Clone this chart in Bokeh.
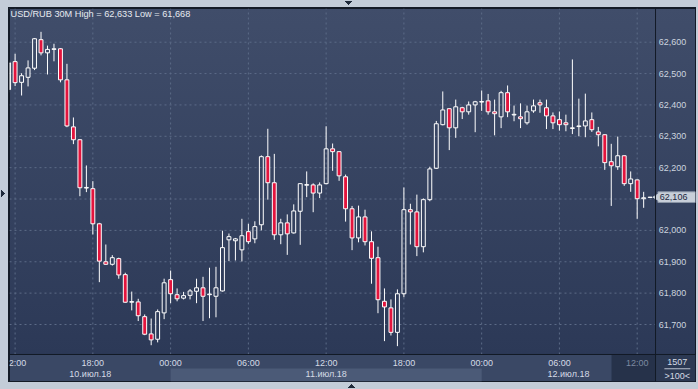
import numpy as np
from bokeh.plotting import figure
from bokeh.models import Label, BoxAnnotation, Range1d, ColumnDataSource, Span
from bokeh.core.properties import value
from bokeh.embed import file_html
from bokeh.resources import INLINE

# ---- data: USD/RUB 30-minute bars, index 0 = 10 Jul 2018 12:00 ----
bar_index = list(range(-1, 99))
open_ = [62449, 62538, 62472, 62488, 62517, 62608, 62566, 62577, 62579, 62480,
         62330, 62289, 62135, 62133, 62021, 61900, 61892, 61910, 61859, 61771,
         61772, 61725, 61670, 61653, 61737, 61843, 61795, 61784, 61793, 61806,
         61817, 61795, 61790, 61807, 61970, 61967, 61938, 61996, 61973, 62018,
         62235, 62152, 61986, 62024, 61992, 62061, 62144, 62145, 62119, 62149,
         62260, 62251, 62171, 62069, 61976, 62043, 61964, 61913, 61774, 61753,
         61675, 61798, 62066, 62059, 61948, 62098, 62198, 62337, 62388, 62327,
         62391, 62378, 62400, 62409, 62413, 62378, 62362, 62439, 62368, 62362,
         62343, 62381, 62407, 62391, 62365, 62353, 62343, 62325, 62331, 62333,
         62353, 62314, 62305, 62219, 62203, 62238, 62149, 62161, 62101, 62105]
high_ = [62542, 62563, 62501, 62542, 62613, 62633, 62589, 62595, 62581, 62531,
         62360, 62291, 62207, 62157, 62024, 61955, 61921, 61913, 61865, 61805,
         61782, 61732, 61719, 61748, 61846, 61872, 61815, 61804, 61813, 61846,
         61852, 61881, 61884, 61999, 61990, 61976, 62037, 62021, 62029, 62239,
         62324, 62244, 62037, 62051, 62083, 62150, 62188, 62150, 62153, 62332,
         62277, 62252, 62178, 62078, 62079, 62066, 61997, 61948, 61815, 61780,
         61812, 62137, 62085, 62114, 62102, 62203, 62349, 62443, 62389, 62417,
         62394, 62411, 62413, 62446, 62435, 62417, 62445, 62462, 62398, 62405,
         62398, 62417, 62417, 62417, 62376, 62379, 62369, 62545, 62420, 62436,
         62376, 62330, 62306, 62276, 62299, 62239, 62188, 62162, 62123, 62106]
low_ = [62440, 62460, 62430, 62459, 62511, 62558, 62497, 62539, 62472, 62329,
        62275, 62109, 62122, 61987, 61835, 61890, 61888, 61846, 61769, 61745,
        61711, 61666, 61634, 61643, 61717, 61768, 61774, 61780, 61780, 61768,
        61711, 61720, 61723, 61805, 61902, 61904, 61901, 61957, 61959, 62000,
        62098, 61970, 61956, 61922, 61990, 61954, 62106, 62058, 62103, 62147,
        62190, 62158, 62028, 61937, 61962, 61952, 61830, 61736, 61647, 61665,
        61631, 61787, 61955, 61918, 61930, 62093, 62196, 62335, 62256, 62295,
        62355, 62369, 62313, 62381, 62369, 62303, 62326, 62361, 62348, 62326,
        62337, 62375, 62375, 62323, 62323, 62318, 62316, 62307, 62300, 62297,
        62314, 62268, 62193, 62078, 62193, 62142, 62123, 62037, 62072, 62105]
close_ = [62534, 62471, 62493, 62518, 62611, 62566, 62577, 62579, 62480, 62333,
          62289, 62136, 62137, 62021, 61902, 61892, 61913, 61858, 61771, 61773,
          61728, 61669, 61651, 61741, 61833, 61798, 61782, 61792, 61807, 61817,
          61790, 61797, 61817, 61945, 61980, 61973, 61983, 61964, 62012, 62235,
          62152, 61986, 62024, 61989, 62062, 62149, 62146, 62119, 62145, 62260,
          62251, 62174, 62069, 61976, 62043, 61964, 61911, 61779, 61756, 61675,
          61798, 62066, 62059, 61948, 62098, 62196, 62340, 62384, 62327, 62394,
          62378, 62400, 62410, 62411, 62378, 62372, 62439, 62378, 62370, 62356,
          62378, 62397, 62400, 62365, 62343, 62337, 62337, 62327, 62333, 62349,
          62321, 62305, 62216, 62206, 62238, 62149, 62164, 62101, 62104, 62106]

price_ticks = [61700, 61800, 61900, 62000, 62100, 62200, 62300, 62400, 62500, 62600]
time_tick_pos = [0, 12, 24, 36, 48, 60, 72, 84]
time_tick_labels = ["12:00", "18:00", "00:00", "06:00", "12:00", "18:00", "00:00", "06:00"]
current_tick_pos = 96
current_tick_label = "12:00"
date_tick_pos = [11.6, 48, 85.4]
date_tick_labels = ["10.июл.18", "11.июл.18", "12.июл.18"]
day_band = (24, 72)          # 11 Jul 00:00 .. 12 Jul 00:00
last_price = 62106
bar_count_text = "1507"
zoom_text = ">100<"
title_text = "USD/RUB 30M  High = 62,633 Low = 61,668"

RED = "#e3143d"
FONT = "Liberation Sans"
GRID = "#5c6b87"
LABEL = "#ccd4df"
ARROW = "#1f2a3b"

o = np.array(open_, float); c = np.array(close_, float)
h = np.array(high_, float); l = np.array(low_, float)
x = np.array(bar_index, float)
bt = np.maximum(o, c); bb = np.minimum(o, c)
up = c >= o

# candle area limits, and whole frame incl. price scale and time strip
cx0, cx1 = -0.864, 98.83
cy0, cy1 = 61604.4, 62707.4
fx1, fy0 = 105.0, 61518.3
strip_time_y = 61576.6
strip_date_y = 61541.6

p = figure(width=698, height=389, x_range=Range1d(cx0, fx1), y_range=Range1d(fy0, cy1),
           output_backend="svg", toolbar_location=None, tools="",
           x_axis_location=None, y_axis_location=None,
           min_border_left=9, min_border_top=8, min_border_right=3, min_border_bottom=8)
p.xgrid.visible = False
p.ygrid.visible = False
p.background_fill_alpha = 0
p.border_fill_alpha = 0
p.outline_line_color = "#131a26"


def tri(direction, left, top, size=4):
    return (f"linear-gradient(to {direction}, transparent 50%, {ARROW} 50%) "
            f"{left}px {top}px / {size}px {size}px no-repeat, ")


p.styles = {"background": (
    tri("top right", 345, 1) + tri("top left", 349, 1) +
    tri("bottom right", 348, 384) + tri("bottom left", 352, 384) +
    tri("bottom left", 1, 190) + tri("top left", 1, 194) +
    "linear-gradient(#404d6a, #2c3957) 9px 8px / 686px 346px no-repeat, "
    "linear-gradient(#3a4865, #3a4865) 9px 354px / 686px 27px no-repeat, "
    "linear-gradient(#141b27, #141b27) 8px 7px / 688px 375px no-repeat, "
    "#c3ccd8")}

# strip decorations
p.add_layout(BoxAnnotation(left=day_band[0], right=day_band[1], top=61559.7, bottom=fy0,
                           fill_color="#4b5a77", fill_alpha=1, line_alpha=0, level="underlay"))
p.add_layout(BoxAnnotation(left=92.04, right=cx1, top=cy0, bottom=fy0,
                           fill_color="#26324a", fill_alpha=1, line_alpha=0, level="underlay"))
p.add_layout(BoxAnnotation(left=cx1, right=fx1, top=cy0, bottom=fy0,
                           fill_color="#2c3953", fill_alpha=1, line_alpha=0, level="underlay"))

# dashed grid limited to the candle area
vx = time_tick_pos + [current_tick_pos]
p.segment(x0=vx, y0=[cy0] * len(vx), x1=vx, y1=[cy1] * len(vx),
          line_color=GRID, line_dash="2 3", line_width=1)
p.segment(x0=[cx0] * len(price_ticks), y0=price_ticks, x1=[cx1] * len(price_ticks),
          y1=price_ticks, line_color=GRID, line_dash="2 3", line_width=1)

# separators between candle area and scales
p.add_layout(Span(location=cy0, dimension="width", line_color="#131a26", line_width=1))
p.add_layout(Span(location=cx1, dimension="height", line_color="#131a26", line_width=1))

# candles
up_src = ColumnDataSource(dict(x=x[up], t=bt[up], b=bb[up]))
dn_src = ColumnDataSource(dict(x=x[~up], t=bt[~up], b=bb[~up]))
p.segment(x0=x, y0=bt, x1=x, y1=h, line_color="white", line_width=1)
p.segment(x0=x, y0=bb, x1=x, y1=l, line_color="white", line_width=1)
p.vbar(x="x", top="t", bottom="b", width=0.6, source=up_src,
       fill_alpha=0, line_color="white", line_width=1)
p.vbar(x="x", top="t", bottom="b", width=0.6, source=dn_src,
       fill_color=RED, line_color="white", line_width=1)

# price scale labels
shown = [t for t in price_ticks if abs(t - last_price) > 30]
p.text(x=[99.34] * len(shown), y=shown, text=[f"{t:,}" for t in shown],
       text_font=value(FONT), text_font_size=value("9px"), text_color=LABEL,
       text_align="left", text_baseline="middle")

# last price marker
p.add_layout(BoxAnnotation(left=99.2, right=fx1, top=last_price + 17, bottom=last_price - 17,
                           fill_color="#c8cfd9", fill_alpha=1, line_color="#8a95a6",
                           line_alpha=1, level="underlay"))
p.scatter(x=[99.05], y=[last_price], marker="triangle", size=7, angle=np.pi / 2,
          fill_color="#c8cfd9", line_color="#c8cfd9")
p.text(x=[99.5], y=[last_price], text=[f"{last_price:,}"],
       text_font=value(FONT), text_font_size=value("9px"), text_color="#1b2840",
       text_align="left", text_baseline="middle")

# time strip labels
p.text(x=time_tick_pos, y=[strip_time_y] * len(time_tick_pos), text=time_tick_labels,
       text_font=value(FONT), text_font_size=value("9px"), text_color="#d5dbe5",
       text_align="center", text_baseline="middle")
p.text(x=[current_tick_pos], y=[strip_time_y], text=[current_tick_label],
       text_font=value(FONT), text_font_size=value("9px"), text_color="#7d8aa1",
       text_align="center", text_baseline="middle")
p.text(x=date_tick_pos, y=[strip_date_y] * len(date_tick_pos), text=date_tick_labels,
       text_font=value(FONT), text_font_size=value("9px"), text_color="#d5dbe5",
       text_align="center", text_baseline="middle")

# corner counters
p.text(x=[102.2], y=[61579.8], text=[bar_count_text],
       text_font=value(FONT), text_font_size=value("9px"), text_color="#d5dbe5",
       text_align="center", text_baseline="middle")
p.add_layout(BoxAnnotation(left=100.2, right=104.2, top=61560.5, bottom=61557.3,
                           fill_color="#b8c1ce", fill_alpha=1, line_alpha=0))
p.text(x=[102.2], y=[61537.4], text=[zoom_text],
       text_font=value(FONT), text_font_size=value("9px"), text_color="#d5dbe5",
       text_align="center", text_baseline="middle")

# title
p.add_layout(Label(x=-0.71, y=62688.3, text=title_text, text_font=FONT, text_font_size="9.2px",
                   text_color="#e6eaf0", text_align="left", text_baseline="middle"))

open("out.html", "w").write(file_html(p, INLINE))
